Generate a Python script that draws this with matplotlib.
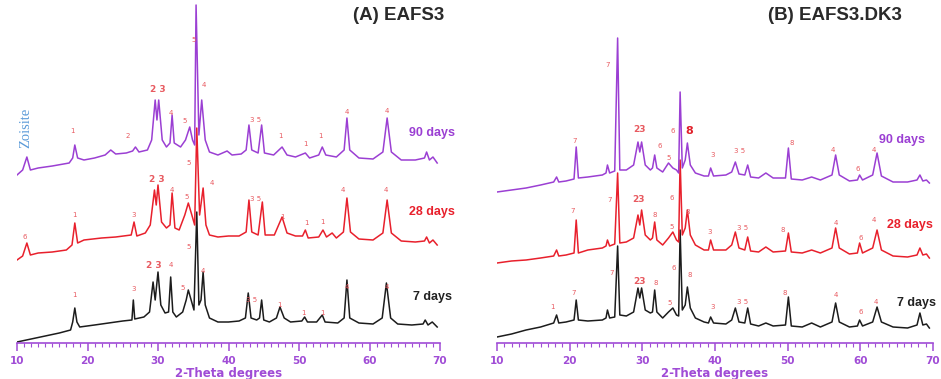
import matplotlib.pyplot as plt
import numpy as np

# ---- data (2-theta, intensity in a.u.) ----
# panel A : EAFS3
a7_tt = [10.0, 12, 14, 16, 17.6, 17.9, 18.2, 18.5, 18.9, 21, 23, 25, 26.3, 26.5, 26.7, 28, 28.8, 29.3,
         29.6, 30.0, 30.4, 31.0, 31.5, 31.8, 32.1, 32.6, 33.5, 34.0, 34.3, 34.7, 35.1, 35.5, 35.8, 36.1,
         36.4, 36.7, 37.3, 38.5, 40, 41.5, 42.4, 42.8, 43.2, 44.0, 44.4, 44.7, 45.0, 45.8, 46.8, 47.3,
         47.9, 48.8, 50.4, 50.8, 51.2, 52.5, 53.3, 53.7, 55.5, 56.4, 56.8, 57.2, 58.5, 60.5, 61.8, 62.4,
         63.0, 64, 66, 67.6, 67.9, 68.3, 68.9, 69.6]
a7_I = [1, 4, 7, 10, 13, 21, 35, 21, 16, 18, 20, 22, 23, 43, 24, 26, 31, 61,
        43, 71, 38, 30, 31, 66, 31, 26, 31, 43, 53, 43, 33, 131, 38, 43,
        71, 38, 25, 21, 21, 22, 25, 50, 25, 23, 25, 43, 23, 21, 25, 36,
        25, 21, 22, 26, 21, 21, 28, 21, 20, 25, 63, 25, 20, 19, 25, 60,
        25, 19, 18, 19, 23, 18, 21, 16]

a28_tt = [10.0, 10.8, 11.4, 11.9, 13, 15, 17, 17.8, 18.2, 18.6, 19.5, 22, 24, 26.2, 26.6, 27.0, 28.2,
          28.9, 29.5, 29.75, 30.0, 30.5, 31.2, 31.7, 32.0, 32.4, 33.0, 33.8, 34.3, 34.8, 35.2, 35.5,
          35.9, 36.4, 36.8, 37.3, 38.5, 40, 41.5, 42.5, 42.9, 43.3, 44.2, 44.8, 45.2, 46.5, 47.6, 48.3,
          49.5, 50.5, 50.9, 51.3, 52.8, 53.4, 53.9, 54.7, 55.3, 56.3, 56.8, 57.3, 58.5, 60.5, 61.9,
          62.5, 63.1, 64.5, 66.5, 67.8, 68.1, 68.5, 69.0, 69.6]
a28_I = [3, 7, 20, 8, 10, 11, 13, 18, 40, 20, 23, 25, 26, 28, 41, 27, 30,
         38, 73, 58, 78, 41, 35, 38, 70, 35, 33, 48, 60, 48, 38, 135,
         48, 75, 38, 28, 26, 27, 27, 31, 63, 31, 28, 61, 28, 28, 46, 30,
         27, 27, 33, 25, 26, 33, 26, 30, 25, 31, 65, 31, 24, 23, 30,
         63, 30, 22, 21, 22, 26, 20, 23, 18]

a90_tt = [10.0, 10.8, 11.4, 11.9, 13, 15, 17.4, 17.9, 18.2, 18.6, 19.5, 21, 22.5, 23.3, 24, 25.5, 26.4,
          26.8, 27.3, 28.5, 29.1, 29.6, 29.85, 30.1, 30.6, 31.2, 31.7, 32.0, 32.3, 33.2, 33.9, 34.5,
          34.9, 35.2, 35.4, 35.8, 36.2, 36.7, 37.3, 38.5, 39.8, 40.5, 41.8, 42.5, 42.9, 43.3, 44.2,
          44.7, 45.1, 46.4, 47.6, 48.3, 49.5, 50.9, 51.5, 52.8, 53.3, 53.8, 55.3, 56.4, 56.8, 57.2,
          58.5, 60.5, 61.9, 62.5, 63.1, 64.5, 66.5, 67.8, 68.1, 68.5, 69.0, 69.6]
a90_I = [8, 13, 26, 13, 15, 17, 20, 25, 38, 25, 23, 25, 28, 33, 29, 30, 32,
         36, 31, 33, 43, 83, 63, 83, 43, 36, 40, 68, 40, 36, 43, 56,
         43, 38, 178, 48, 83, 43, 31, 28, 32, 28, 29, 33, 58, 33, 30,
         58, 30, 28, 36, 28, 26, 30, 25, 28, 36, 28, 26, 33, 65, 33,
         25, 24, 31, 65, 31, 23, 23, 25, 31, 23, 26, 20]

# panel B : EAFS3.DK3  (same 2-theta grid for all three patterns)
b_tt = [10.0, 12, 14, 16, 17.8, 18.2, 18.5, 19.5, 20.6, 20.9, 21.2, 22.5, 24.5, 25.0, 25.2, 25.5, 26.2,
        26.6, 26.9, 27.8, 28.8, 29.4, 29.65, 29.9, 30.4, 31.1, 31.4, 31.7, 32.0, 32.8, 33.6, 34.2,
        34.7, 35.0, 35.2, 35.5, 35.9, 36.2, 36.6, 37.3, 38.5, 39.1, 39.4, 39.8, 41.5, 42.3, 42.8,
        43.3, 44.1, 44.5, 44.9, 46.0, 47.0, 48.0, 49.7, 50.1, 50.5, 52.0, 53.3, 54.5, 56.1, 56.6,
        57.1, 58.5, 59.6, 59.9, 60.3, 61.7, 62.3, 62.9, 64.5, 66.5, 67.8, 68.2, 68.6, 69.1, 69.5]
b7_I = [6, 9, 13, 16, 20, 28, 20, 21, 23, 43, 23, 22, 23, 25, 33, 25, 26,
        97, 28, 27, 31, 55, 45, 55, 33, 30, 31, 53, 31, 25, 31, 35,
        28, 27, 113, 33, 38, 56, 35, 25, 21, 20, 26, 20, 19, 23, 35,
        21, 20, 35, 19, 17, 20, 17, 18, 46, 17, 16, 20, 16, 21, 40,
        21, 16, 17, 23, 17, 21, 36, 21, 16, 15, 18, 30, 18, 19, 15]
b28_I = [5, 7, 8, 10, 12, 18, 12, 13, 15, 48, 15, 18, 20, 22, 28, 22, 24,
         95, 25, 26, 30, 53, 43, 58, 33, 28, 30, 46, 28, 23, 30, 36,
         28, 26, 108, 33, 40, 58, 33, 23, 18, 18, 28, 18, 18, 23, 36,
         20, 18, 31, 17, 16, 21, 16, 17, 35, 16, 15, 18, 15, 20, 40,
         20, 14, 15, 25, 15, 20, 38, 18, 12, 11, 13, 20, 13, 14, 10]
b90_I = [1, 3, 5, 8, 11, 16, 11, 12, 14, 46, 15, 16, 18, 20, 28, 20, 22,
         155, 23, 23, 28, 51, 41, 51, 28, 23, 25, 38, 25, 21, 30, 25,
         23, 20, 101, 25, 33, 50, 28, 20, 17, 17, 25, 17, 18, 21, 31,
         19, 18, 28, 16, 15, 20, 15, 15, 45, 14, 13, 16, 13, 18, 38,
         18, 12, 13, 18, 13, 18, 40, 17, 11, 11, 13, 18, 12, 13, 10]

days = ['7 days', '28 days', '90 days']

# phase labels: (text, 2-theta, height)
a_labels = [('1', 17.9, 212), ('2', 25.7, 207), ('2 3', 30.0, 254), ('4', 31.8, 230), ('5', 33.8, 222),
            ('5', 35.0, 303), ('4', 36.5, 258), ('3 5', 43.9, 223), ('1', 47.4, 207), ('1', 50.9, 199),
            ('1', 53.1, 207), ('4', 56.8, 231), ('4', 62.5, 232),
            ('6', 11.1, 106), ('1', 18.2, 128), ('3', 26.5, 128), ('2 3', 29.9, 163), ('4', 32.0, 153),
            ('5', 34.1, 146), ('5', 34.3, 180), ('4', 37.7, 160), ('3 5', 43.8, 144), ('1', 47.7, 126),
            ('1', 51.0, 120), ('1', 53.3, 121), ('4', 56.2, 153), ('4', 62.3, 153),
            ('1', 18.2, 48), ('3', 26.5, 54), ('2 3', 29.4, 78), ('4', 31.8, 78), ('5', 33.5, 55),
            ('5', 34.4, 96), ('4', 36.4, 72), ('3 5', 43.3, 43), ('1', 47.3, 38), ('1', 50.7, 30),
            ('1', 53.3, 30), ('4', 56.8, 56), ('4', 62.5, 56)]
b_labels = [('7', 20.7, 202), ('7', 25.2, 278), ('23', 29.6, 214), ('6', 32.4, 197), ('5', 33.6, 185),
            ('6', 34.2, 212), ('8', 36.5, 212), ('3', 39.7, 188), ('3 5', 43.4, 192), ('8', 50.5, 200),
            ('4', 56.2, 193), ('6', 59.6, 174), ('4', 61.9, 193),
            ('7', 20.4, 132), ('7', 25.5, 143), ('23', 29.5, 143), ('8', 31.7, 128), ('5', 34.0, 116),
            ('6', 34.0, 145), ('8', 36.2, 131), ('3', 39.3, 111), ('3 5', 43.8, 115), ('8', 49.3, 113),
            ('4', 56.7, 120), ('6', 60.1, 105), ('4', 61.9, 123),
            ('1', 17.6, 36), ('7', 20.6, 50), ('7', 25.8, 70), ('23', 29.6, 61), ('8', 31.8, 60),
            ('5', 33.8, 40), ('6', 34.3, 75), ('8', 36.5, 68), ('3', 39.7, 36), ('3 5', 43.8, 41),
            ('8', 49.6, 50), ('4', 56.6, 48), ('6', 60.1, 31), ('4', 62.2, 41)]

# ---- drawing ----
colors = ['#1c1c1c', '#e8202c', '#9b3fd3']
purple = '#a04cd6'
lab_red = '#e85a60'

fig = plt.figure(figsize=(9.41, 3.79), dpi=100)
W, H = 941, 379
axA = fig.add_axes([17 / W, (H - 343) / H, 423 / W, 343 / H])
axB = fig.add_axes([497 / W, (H - 343) / H, 436 / W, 343 / H])

offA = [0, 80, 160]
offB = [0, 75, 150]
seriesA = [(a7_tt, a7_I), (a28_tt, a28_I), (a90_tt, a90_I)]
seriesB = [(b_tt, b7_I), (b_tt, b28_I), (b_tt, b90_I)]

for i in range(3):
    tt, I = seriesA[i]
    axA.plot(tt, np.array(I) + offA[i], color=colors[i], lw=1.1)
    tt, I = seriesB[i]
    axB.plot(tt, np.array(I) + offB[i], color=colors[i], lw=1.1)

for ax, labels in [(axA, a_labels), (axB, b_labels)]:
    for txt, x, y in labels:
        big = txt in ('2 3', '23')
        ax.text(x, y, txt, color=lab_red, fontsize=6.5 if big else 5,
                fontweight='bold' if big else 'normal', ha='center', va='center')

# the bold "8" on the 90 days pattern of panel B
axB.texts[6].set_fontsize(8)
axB.texts[6].set_fontweight('bold')
axB.texts[6].set_color('#e0202a')

# day labels
for i, (ya, yb) in enumerate([(46, 40), (131, 118), (210, 203)]):
    axA.text(68.9, ya, days[i], color=colors[i] if i else '#222222', fontsize=9,
             fontweight='bold', ha='center', va='center', family='Liberation Sans', clip_on=False)
for i, (x, y) in enumerate([(65.1, 40), (63.7, 118), (62.6, 203)]):
    axB.text(x, y, days[i], color=colors[i] if i else '#222222', fontsize=9,
             fontweight='bold', ha='left', va='center', family='Liberation Sans', clip_on=False)

axA.text(11.3, 215, 'Zoisite', rotation=90, color='#5a9ad8', fontsize=10.5,
         family='Liberation Serif', ha='center', va='center')

fig.text(399 / W, 1 - 15 / H, '(A) EAFS3', fontsize=13.5, fontweight='bold',
         family='Liberation Sans', color='#2a2a2a', ha='center', va='center')
fig.text(835 / W, 1 - 15 / H, '(B) EAFS3.DK3', fontsize=13.5, fontweight='bold',
         family='Liberation Sans', color='#2a2a2a', ha='center', va='center')

for ax in (axA, axB):
    ax.set_xlim(10, 70)
    ax.set_ylim(0, 343)
    ax.set_facecolor('none')
    for s in ('top', 'left', 'right'):
        ax.spines[s].set_visible(False)
    ax.spines['bottom'].set_color(purple)
    ax.spines['bottom'].set_linewidth(1.2)
    ax.set_yticks([])
    ax.set_xticks(np.arange(10, 71, 10))
    ax.set_xticks(np.arange(10, 71, 1), minor=True)
    ax.tick_params(axis='x', which='major', length=6, width=1.1, color=purple,
                   labelcolor=purple, labelsize=7.5, pad=3)
    ax.tick_params(axis='x', which='minor', length=3, width=0.8, color=purple)
    for lb in ax.get_xticklabels():
        lb.set_fontweight('bold')
    ax.set_xlabel('2-Theta degrees', color=purple, fontsize=8.5, fontweight='bold', labelpad=1)

fig.savefig('out.png', dpi=100)
